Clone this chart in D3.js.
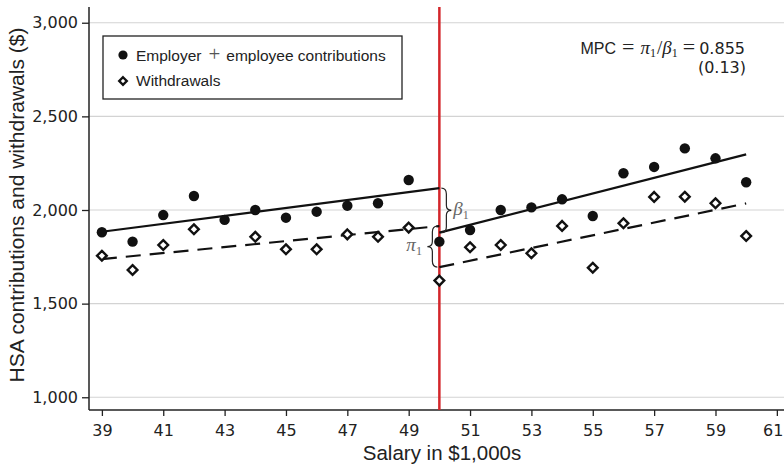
<!DOCTYPE html>
<html>
<head>
<meta charset="utf-8">
<script src="https://cdn.jsdelivr.net/npm/d3@7"></script>
<style>
  body { margin: 0; background: #fff; }
  svg { display: block; font-family: "Liberation Sans", Arial, sans-serif; }
</style>
</head>
<body>
<svg width="784" height="469"></svg>
<script>
// salary bins ($1,000s)
const salary = [39, 40, 41, 42, 43, 44, 45, 46, 47, 48, 49, 50, 51, 52, 53, 54, 55, 56, 57, 58, 59, 60];
const contributions = [1881, 1831, 1973, 2075, 1947, 2000, 1959, 1991, 2023, 2036, 2160, 1831,
                       1893, 2000, 2014, 2057, 1968, 2196, 2230, 2329, 2276, 2148];
// no visible withdrawal marker at 43
const withdrawals = [1756, 1680, 1813, 1897, null, 1857, 1790, 1790, 1870, 1857, 1906, 1623,
                     1801, 1813, 1769, 1915, 1692, 1929, 2070, 2071, 2036, 1861];
// fitted lines [start, end] on each side of the 50k cutoff
const contribFitLeft = [[39, 1884], [50, 2117]];
const contribFitRight = [[50, 1879], [60, 2297]];
const withdrawFitLeft = [[39, 1738], [50, 1914]];
const withdrawFitRight = [[50, 1695], [60, 2035]];
const cutoff = 50;
const yTicks = [1000, 1500, 2000, 2500, 3000];
const xTicks = [39, 41, 43, 45, 47, 49, 51, 53, 55, 57, 59, 61];

const svg = d3.select("svg");
const pLeft = 89, pBottom = 410, pTop = 7, pRight = 784;
const numFont = "'DejaVu Sans', sans-serif";
const serif = "'Liberation Serif', 'Times New Roman', serif";

const x = d3.scaleLinear().domain([38.58, 61.233]).range([pLeft, pRight]);
const y = d3.scaleLinear().domain([932, 3084]).range([pBottom, pTop]);

// gridlines
svg.append("g")
  .selectAll("line")
  .data(yTicks)
  .enter().append("line")
  .attr("x1", pLeft).attr("x2", pRight)
  .attr("y1", d => y(d)).attr("y2", d => y(d))
  .attr("stroke", "#d3d3d3").attr("stroke-width", 1.2);

// axes
const yAxis = svg.append("g")
  .attr("transform", "translate(" + pLeft + ",0)")
  .call(d3.axisLeft(y).tickValues(yTicks).tickSize(7).tickPadding(4).tickFormat(d3.format(",")));
yAxis.select(".domain").attr("d", "M0," + pTop + "V" + pBottom);

const xAxis = svg.append("g")
  .attr("transform", "translate(0," + pBottom + ")")
  .call(d3.axisBottom(x).tickValues(xTicks).tickSize(6).tickPadding(9));
xAxis.select(".domain").attr("d", "M" + pLeft + ",0H" + pRight);

svg.selectAll(".domain").attr("stroke", "#222").attr("stroke-width", 1.5);
svg.selectAll(".tick line").attr("stroke", "#222").attr("stroke-width", 1.3);
svg.selectAll(".tick text").attr("fill", "#222").style("font-size", "16px")
  .style("font-family", numFont);
// keep the last x label inside the frame
xAxis.selectAll(".tick text").filter(d => d === 61)
  .attr("text-anchor", "end").attr("x", 6);

// axis titles
svg.append("text")
  .attr("transform", "translate(24,205) rotate(-90)")
  .attr("text-anchor", "middle")
  .style("font-size", "21px").attr("fill", "#222")
  .text("HSA contributions and withdrawals ($)");

svg.append("text")
  .attr("x", 442).attr("y", 460)
  .attr("text-anchor", "middle")
  .style("font-size", "20.5px").attr("fill", "#222")
  .text("Salary in $1,000s");

// cutoff line
svg.append("line")
  .attr("x1", x(cutoff)).attr("x2", x(cutoff))
  .attr("y1", pTop).attr("y2", pBottom)
  .attr("stroke", "#d3262b").attr("stroke-width", 2.5);

// fit lines
const line = d3.line().x(d => x(d[0])).y(d => y(d[1]));
[contribFitLeft, contribFitRight].forEach(seg => {
  svg.append("path").attr("d", line(seg))
    .attr("fill", "none").attr("stroke", "#111").attr("stroke-width", 2.2);
});
[withdrawFitLeft, withdrawFitRight].forEach(seg => {
  svg.append("path").attr("d", line(seg))
    .attr("fill", "none").attr("stroke", "#111").attr("stroke-width", 2.2)
    .attr("stroke-dasharray", "15,9");
});

// markers
const diamond = d3.symbol().type(d3.symbolDiamond2).size(60);
svg.append("g")
  .selectAll("path")
  .data(salary.map((s, i) => [s, withdrawals[i]]).filter(d => d[1] != null))
  .enter().append("path")
  .attr("transform", d => "translate(" + x(d[0]) + "," + y(d[1]) + ")")
  .attr("d", diamond)
  .attr("fill", "#fff").attr("stroke", "#111").attr("stroke-width", 2.4);

svg.append("g")
  .selectAll("circle")
  .data(salary.map((s, i) => [s, contributions[i]]))
  .enter().append("circle")
  .attr("cx", d => x(d[0])).attr("cy", d => y(d[1]))
  .attr("r", 5.2).attr("fill", "#111");

// curly braces
function brace(xPos, y1, y2, dir) {
  // vertical brace from y1 (top) to y2 (bottom), tip pointing dir (+1 right, -1 left)
  const w = 5 * dir, m = (y1 + y2) / 2;
  return "M" + xPos + "," + y1 +
    " Q" + (xPos + w) + "," + y1 + " " + (xPos + w) + "," + (y1 + 6) +
    " L" + (xPos + w) + "," + (m - 5) +
    " Q" + (xPos + w) + "," + m + " " + (xPos + 2 * w) + "," + m +
    " Q" + (xPos + w) + "," + m + " " + (xPos + w) + "," + (m + 5) +
    " L" + (xPos + w) + "," + (y2 - 6) +
    " Q" + (xPos + w) + "," + y2 + " " + xPos + "," + y2;
}
const cx = x(cutoff);
svg.append("path")
  .attr("d", brace(cx + 2, y(contribFitLeft[1][1]), y(contribFitRight[0][1]), 1))
  .attr("fill", "none").attr("stroke", "#222").attr("stroke-width", 1.2);
svg.append("path")
  .attr("d", brace(cx - 2, y(withdrawFitLeft[1][1]), y(withdrawFitRight[0][1]), -1))
  .attr("fill", "none").attr("stroke", "#222").attr("stroke-width", 1.2);

const bLab = svg.append("text")
  .attr("x", cx + 14).attr("y", (y(contribFitLeft[1][1]) + y(contribFitRight[0][1])) / 2 + 5)
  .style("font-family", serif).style("font-size", "19px").attr("fill", "#666");
bLab.append("tspan").style("font-style", "italic").text("β");
bLab.append("tspan").attr("dy", 4).style("font-size", "12px").text("1");

const pLab = svg.append("text")
  .attr("x", cx - 33).attr("y", (y(withdrawFitLeft[1][1]) + y(withdrawFitRight[0][1])) / 2 + 4)
  .style("font-family", serif).style("font-size", "19px").attr("fill", "#666");
pLab.append("tspan").style("font-style", "italic").text("π");
pLab.append("tspan").attr("dy", 4).style("font-size", "12px").text("1");

// legend
svg.append("rect")
  .attr("x", 103).attr("y", 36).attr("width", 299).attr("height", 63)
  .attr("fill", "#fff").attr("stroke", "#222").attr("stroke-width", 1.3);
svg.append("circle").attr("cx", 123).attr("cy", 55).attr("r", 4.6).attr("fill", "#111");
svg.append("path").attr("transform", "translate(123,81)")
  .attr("d", d3.symbol().type(d3.symbolDiamond2).size(36))
  .attr("fill", "#fff").attr("stroke", "#111").attr("stroke-width", 2.4);
const l1 = svg.append("text").attr("x", 136).attr("y", 60.5)
  .style("font-size", "15.5px").attr("fill", "#222");
l1.append("tspan").text("Employer");
l1.append("tspan").attr("dx", 7).style("font-family", serif).style("font-size", "21px").attr("fill", "#555").text("+");
l1.append("tspan").attr("dx", 6).text("employee contributions");
svg.append("text").attr("x", 136).attr("y", 86)
  .style("font-size", "15.5px").attr("fill", "#222").text("Withdrawals");

// MPC annotation
const mpc = svg.append("text").attr("x", 745).attr("y", 54)
  .attr("text-anchor", "end").style("font-size", "16px").attr("fill", "#222");
mpc.append("tspan").text("MPC");
mpc.append("tspan").attr("dx", 6).style("font-family", serif).style("font-size", "22px").text("=");
mpc.append("tspan").attr("dx", 6).style("font-family", serif).style("font-style", "italic").style("font-size", "19px").text("π");
mpc.append("tspan").attr("dy", 3).style("font-family", serif).style("font-size", "12px").text("1");
mpc.append("tspan").attr("dy", -3).attr("dx", 1).style("font-family", serif).style("font-size", "19px").text("/");
mpc.append("tspan").style("font-family", serif).style("font-style", "italic").style("font-size", "19px").text("β");
mpc.append("tspan").attr("dy", 3).style("font-family", serif).style("font-size", "12px").text("1");
mpc.append("tspan").attr("dy", -3).attr("dx", 5).style("font-family", serif).style("font-size", "22px").text("=");
mpc.append("tspan").attr("dx", 4).style("font-family", numFont).text("0.855");

svg.append("text").attr("x", 746).attr("y", 73)
  .attr("text-anchor", "end").style("font-size", "16px").style("font-family", numFont).attr("fill", "#222")
  .text("(0.13)");
</script>
</body>
</html>
